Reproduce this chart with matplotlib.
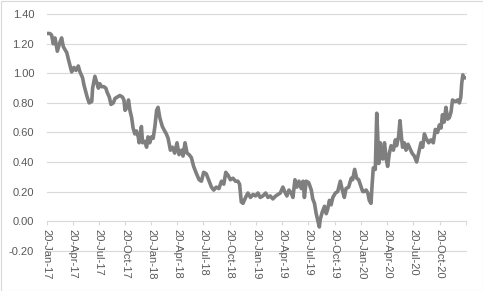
import matplotlib
matplotlib.use("Agg")
import matplotlib.pyplot as plt
import numpy as np
import pandas as pd
from matplotlib.patches import Rectangle

start_date = "2017-01-20"
day_offsets = [0, 11, 17, 23, 29, 37, 46, 52, 58, 70, 75, 83, 87, 95, 102, 110, 116, 125, 130, 137,
               141, 148, 157, 160, 168, 174, 180, 185, 191, 199, 206, 211, 218, 224, 232, 238, 246, 255,
               264, 269, 273, 280, 285, 290, 296, 301, 307, 313, 319, 322, 330, 334, 342, 348, 353, 359,
               365, 371, 377, 383, 388, 394, 403, 411, 417, 423, 431, 438, 446, 454, 461, 470, 475, 482,
               489, 496, 504, 512, 522, 531, 539, 547, 556, 566, 574, 582, 591, 600, 609, 617, 624, 632,
               640, 649, 658, 666, 672, 678, 684, 693, 701, 710, 719, 728, 736, 744, 753, 763, 771, 779,
               788, 798, 806, 814, 823, 829, 837, 844, 852, 858, 865, 872, 879, 887, 893, 898, 904, 913,
               922, 927, 933, 939, 945, 950, 953, 960, 968, 974, 979, 985, 991, 997, 1006, 1014, 1023, 1030,
               1037, 1043, 1052, 1061, 1066, 1073, 1080, 1087, 1096, 1101, 1107, 1113, 1119, 1124, 1130,
               1134, 1138, 1145, 1150, 1153, 1157, 1162, 1166, 1171, 1177, 1183, 1188, 1194, 1200, 1208,
               1215, 1219, 1226, 1231, 1236, 1240, 1246, 1252, 1259, 1266, 1273, 1281, 1289, 1296, 1304,
               1310, 1316, 1322, 1331, 1339, 1347, 1354, 1362, 1368, 1374, 1379, 1385, 1391, 1397, 1403,
               1409, 1414, 1420, 1426, 1432, 1438, 1443, 1446, 1450, 1453, 1456]
values = [1.27, 1.27, 1.26, 1.20, 1.24, 1.15, 1.21, 1.24, 1.18, 1.14, 1.10, 1.04, 1.01, 1.04, 1.02, 1.05,
          1.01, 0.97, 0.92, 0.87, 0.84, 0.80, 0.81, 0.90, 0.98, 0.94, 0.90, 0.93, 0.91, 0.91, 0.90, 0.87,
          0.84, 0.79, 0.80, 0.83, 0.84, 0.85, 0.84, 0.82, 0.75, 0.77, 0.82, 0.75, 0.70, 0.63, 0.59, 0.61,
          0.57, 0.53, 0.64, 0.53, 0.54, 0.50, 0.57, 0.53, 0.57, 0.56, 0.64, 0.75, 0.77, 0.70, 0.64, 0.61,
          0.59, 0.56, 0.48, 0.50, 0.46, 0.53, 0.45, 0.48, 0.44, 0.53, 0.46, 0.45, 0.43, 0.37, 0.32, 0.28,
          0.27, 0.33, 0.32, 0.27, 0.23, 0.21, 0.23, 0.22, 0.27, 0.25, 0.33, 0.31, 0.28, 0.29, 0.27, 0.27,
          0.25, 0.13, 0.12, 0.16, 0.19, 0.16, 0.18, 0.17, 0.19, 0.16, 0.17, 0.19, 0.16, 0.17, 0.15, 0.17,
          0.18, 0.19, 0.23, 0.20, 0.17, 0.21, 0.19, 0.16, 0.28, 0.23, 0.27, 0.22, 0.27, 0.16, 0.27, 0.26,
          0.21, 0.15, 0.12, 0.05, 0.00, -0.04, 0.01, 0.06, 0.10, 0.05, 0.08, 0.14, 0.11, 0.16, 0.19, 0.20, 0.27,
          0.21, 0.16, 0.22, 0.23, 0.29, 0.28, 0.35, 0.29, 0.28, 0.23, 0.20, 0.20, 0.21, 0.19, 0.14, 0.12,
          0.25, 0.36, 0.35, 0.73, 0.60, 0.39, 0.53, 0.44, 0.42, 0.53, 0.42, 0.37, 0.46, 0.51, 0.48, 0.55,
          0.51, 0.57, 0.68, 0.57, 0.50, 0.53, 0.48, 0.52, 0.49, 0.46, 0.44, 0.40, 0.46, 0.53, 0.50, 0.59,
          0.56, 0.53, 0.55, 0.53, 0.62, 0.60, 0.65, 0.63, 0.72, 0.67, 0.77, 0.69, 0.70, 0.74, 0.82, 0.81,
          0.81, 0.82, 0.80, 0.84, 0.93, 0.99, 0.97, 0.97]

y_ticks = [-0.20, 0.00, 0.20, 0.40, 0.60, 0.80, 1.00, 1.20, 1.40]
x_tick_dates = ["2017-01-20", "2017-04-20", "2017-07-20", "2017-10-20", "2018-01-20", "2018-04-20",
                "2018-07-20", "2018-10-20", "2019-01-20", "2019-04-20", "2019-07-20", "2019-10-20",
                "2020-01-20", "2020-04-20", "2020-07-20", "2020-10-20", "2021-01-20"]
x_tick_labels = ["20-Jan-17", "20-Apr-17", "20-Jul-17", "20-Oct-17", "20-Jan-18", "20-Apr-18",
                 "20-Jul-18", "20-Oct-18", "20-Jan-19", "20-Apr-19", "20-Jul-19", "20-Oct-19",
                 "20-Jan-20", "20-Apr-20", "20-Jul-20", "20-Oct-20", ""]

dates = pd.Timestamp(start_date) + pd.to_timedelta(day_offsets, unit="D")

plt.rcParams['font.family'] = ['Liberation Sans', 'DejaVu Sans']
fig = plt.figure(figsize=(4.83, 2.91), dpi=100)
ax = fig.add_axes([46.7 / 483, 1 - 250.6 / 291, (466 - 46.7) / 483, (250.6 - 14.3) / 291])

ax.plot(dates, values, color="#7f7f7f", linewidth=2.6, solid_joinstyle="round", zorder=3)

ax.set_ylim(-0.2, 1.4)
ax.set_xlim(pd.Timestamp(x_tick_dates[0]), pd.Timestamp(x_tick_dates[-1]))
ax.set_yticks(y_ticks)
ax.set_yticklabels([f"{v:.2f}" for v in y_ticks])
ax.set_xticks(pd.to_datetime(x_tick_dates))
ax.set_xticklabels(x_tick_labels)

for v in y_ticks:
    if v != 0:
        ax.axhline(v, color="#d9d9d9", linewidth=0.8, zorder=1, clip_on=False)

for s in ["top", "right", "left"]:
    ax.spines[s].set_visible(False)
ax.spines["bottom"].set_position(("data", 0))
ax.spines["bottom"].set_color("#d9d9d9")
ax.spines["bottom"].set_linewidth(0.8)
ax.spines["bottom"].set_zorder(2)

ax.tick_params(axis="y", length=0, pad=9, labelsize=8, labelcolor="#595959")
ax.tick_params(axis="x", length=3, width=0.8, color="#d9d9d9", direction="out", pad=3,
               labelsize=8, labelcolor="#595959", labelrotation=-90)
for lab in ax.get_xticklabels():
    lab.set_verticalalignment("top")
    lab.set_horizontalalignment("center")
    lab.set_rotation(-90)
    lab.set_rotation_mode("default")

fig.patches.append(Rectangle((0.5 / 483, 0.5 / 291), 1 - 1 / 483, 1 - 1 / 291, transform=fig.transFigure,
                             fill=False, edgecolor="#d9d9d9", linewidth=0.8))

fig.savefig("out.png", dpi=100)
